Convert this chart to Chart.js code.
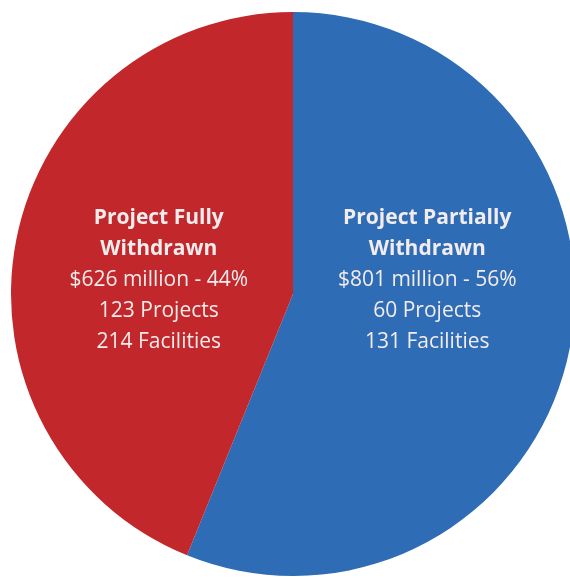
<!DOCTYPE html>
<html>
<head>
<meta charset="utf-8">
<script src="https://cdn.jsdelivr.net/npm/chart.js@4/dist/chart.umd.min.js"></script>
<style>
    html, body { margin: 0; padding: 0; background: #fff; overflow: hidden; }
    #wrap { position: relative; width: 586px; height: 588px; }
</style>
</head>
<body>
<div id="wrap"><canvas id="graficoPizza"></canvas></div>
<script>
// valores
const categorias = ["Project Partially Withdrawn", "Project Fully Withdrawn"];
const valores = [801, 626];            // $ milhões
const percentuais = [56, 44];
const projetos = [60, 123];
const instalacoes = [131, 214];
const cores = ["#2e6cb5", "#c2272b"];

document.addEventListener("DOMContentLoaded", () => {

    const ctx = document.getElementById("graficoPizza");

    // escreve os rótulos dentro de cada fatia
    const rotulos = {
        id: "rotulos",
        afterDatasetsDraw(chart) {
            const c = chart.ctx;
            const arcs = chart.getDatasetMeta(0).data;
            arcs.forEach((arc, i) => {
                const meio = (arc.startAngle + arc.endAngle) / 2;
                const x = arc.x + Math.cos(meio) * arc.outerRadius * 0.485;
                const y = arc.y - 14;
                const nome = categorias[i].split(" ");
                const linhas = [
                    { t: nome.slice(0, 2).join(" "), b: true },
                    { t: nome.slice(2).join(" "), b: true },
                    { t: "$" + valores[i] + " million - " + percentuais[i] + "%", b: false },
                    { t: projetos[i] + " Projects", b: false },
                    { t: instalacoes[i] + " Facilities", b: false }
                ];
                c.save();
                c.fillStyle = "#f3ecec";
                c.textAlign = "center";
                c.textBaseline = "middle";
                const passo = 31;
                const y0 = y - passo * 2;
                linhas.forEach((l, k) => {
                    c.font = (l.b ? "bold " : "") + "21px 'Open Sans', sans-serif";
                    c.fillText(l.t, x, y0 + k * passo);
                });
                c.restore();
            });
        }
    };

    new Chart(ctx, {
        type: "pie",
        data: {
            labels: categorias,
            datasets: [
                {
                    data: valores,
                    backgroundColor: cores,
                    borderWidth: 0
                }
            ]
        },
        options: {
            responsive: true,
            maintainAspectRatio: false,
            animation: false,
            layout: { padding: 11 },
            plugins: {
                legend: { display: false },
                tooltip: { enabled: false }
            }
        },
        plugins: [rotulos]
    });

});
</script>
</body>
</html>
